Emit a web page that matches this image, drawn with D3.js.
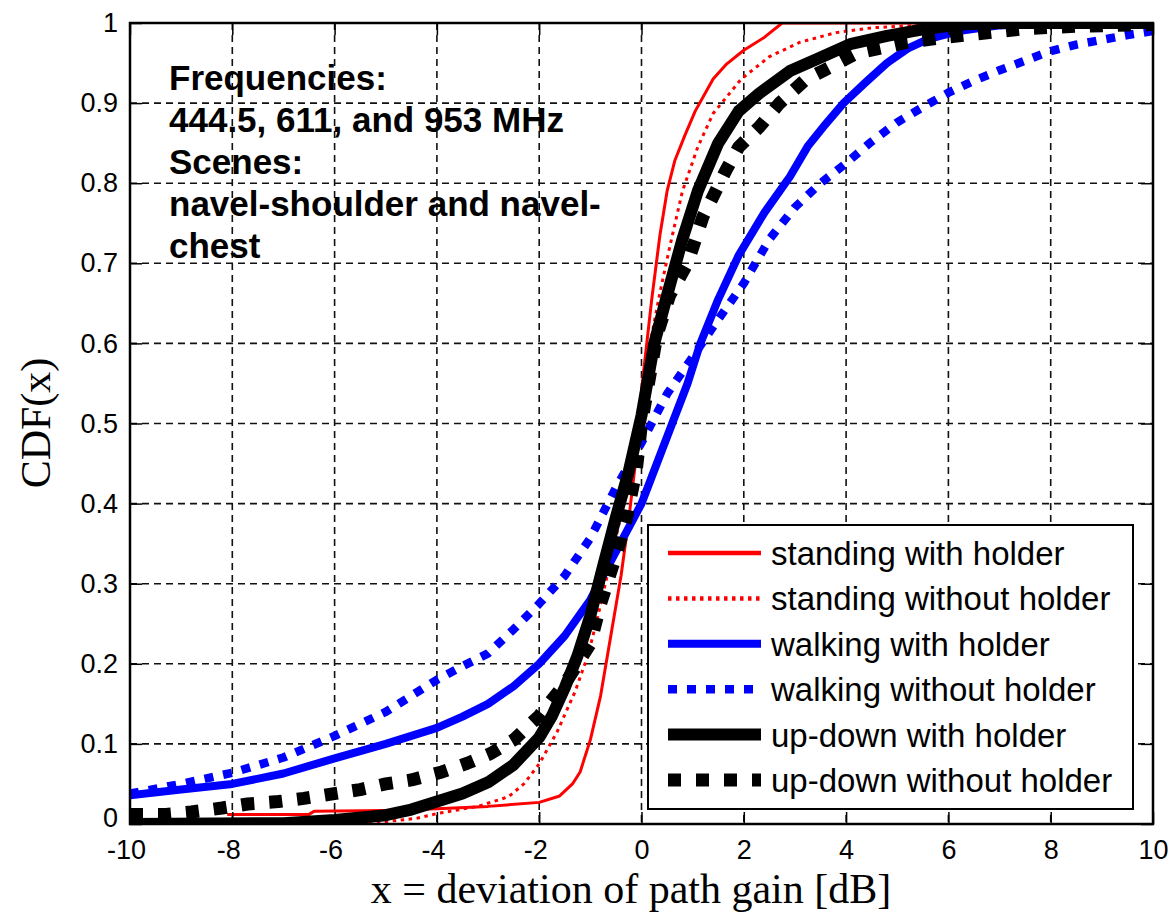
<!DOCTYPE html>
<html>
<head>
<meta charset="utf-8">
<script src="https://cdn.jsdelivr.net/npm/d3@7"></script>
<style>
  body { margin: 0; background: #fff; }
  .tick text { font-family: "Liberation Sans", Arial, sans-serif; font-size: 27px; fill: #000; }
  .axis path { display: none; }
  .axis line { stroke: #000; stroke-width: 1.5; }
</style>
</head>
<body>
<svg id="chart" width="1170" height="919"></svg>
<script>
// ***** DATA *****
const xTicks = [-10, -8, -6, -4, -2, 0, 2, 4, 6, 8, 10];
const xTickLabels = ["-10", "-8", "-6", "-4", "-2", "0", "2", "4", "6", "8", "10"];
const yTicks = [0, 0.1, 0.2, 0.3, 0.4, 0.5, 0.6, 0.7, 0.8, 0.9, 1];
const yTickLabels = ["0", "0.1", "0.2", "0.3", "0.4", "0.5", "0.6", "0.7", "0.8", "0.9", "1"];

const seriesNames = ["standing with holder", "standing without holder", "walking with holder",
                     "walking without holder", "up-down with holder", "up-down without holder"];

const standingWith = [[-8.1,0.012],[-6.5,0.012],[-6.4,0.016],[-5,0.017],[-4,0.019],[-3,0.022],[-2,0.027],
  [-1.6,0.035],[-1.35,0.05],[-1.2,0.065],[-1.0,0.105],[-0.8,0.16],[-0.6,0.235],[-0.4,0.31],[-0.25,0.38],
  [-0.12,0.45],[-0.05,0.51],[0.05,0.57],[0.2,0.655],[0.36,0.735],[0.5,0.79],[0.65,0.828],[0.85,0.86],
  [1.05,0.89],[1.4,0.93],[1.65,0.948],[2.0,0.966],[2.4,0.982],[2.75,1.0],[5.7,1.0]];

const standingWithout = [[-5.8,0.0],[-5,0.003],[-4.4,0.007],[-4,0.013],[-3.2,0.022],[-2.6,0.034],[-2.3,0.05],
  [-2.0,0.075],[-1.65,0.115],[-1.3,0.165],[-1.05,0.21],[-0.85,0.26],[-0.6,0.33],[-0.35,0.40],[-0.1,0.48],
  [0.05,0.55],[0.2,0.61],[0.35,0.66],[0.55,0.72],[0.8,0.79],[1.1,0.845],[1.4,0.887],[1.95,0.93],[2.5,0.958],
  [3.1,0.976],[3.8,0.988],[4.5,0.994],[5.7,0.998]];

const walkingWith = [[-10,0.036],[-9,0.043],[-8,0.05],[-7,0.063],[-6,0.082],[-5,0.1],[-4,0.12],[-3.5,0.134],
  [-3,0.15],[-2.5,0.172],[-2,0.2],[-1.5,0.235],[-1,0.28],[-0.5,0.34],[0,0.40],[0.3,0.45],[0.6,0.5],[0.9,0.55],
  [1.15,0.6],[1.5,0.655],[1.9,0.71],[2.4,0.763],[2.9,0.808],[3.25,0.846],[3.55,0.87],[3.95,0.9],[4.4,0.927],
  [4.8,0.95],[5.2,0.968],[5.6,0.98],[6.2,0.99],[7,0.997],[8,1.0],[10,1.0]];

const walkingWithout = [[-10,0.038],[-9,0.05],[-8,0.064],[-7,0.083],[-6,0.11],[-5,0.14],[-4,0.18],[-3.5,0.197],
  [-3,0.213],[-2.5,0.243],[-2,0.275],[-1.5,0.31],[-1,0.357],[-0.5,0.42],[0,0.476],[0.5,0.537],[1.0,0.583],
  [1.5,0.63],[2.0,0.675],[2.5,0.73],[3.0,0.77],[3.5,0.80],[4.0,0.825],[4.5,0.852],[5.0,0.876],[5.5,0.895],
  [6.0,0.913],[6.5,0.928],[7.0,0.941],[7.5,0.953],[8.0,0.965],[8.5,0.973],[9.0,0.979],[9.5,0.985],[10,0.99]];

const updownWith = [[-10,0.0],[-7,0.001],[-6,0.005],[-5,0.011],[-4.5,0.018],[-4,0.028],[-3.5,0.038],[-3,0.052],
  [-2.5,0.074],[-2,0.108],[-1.75,0.135],[-1.5,0.17],[-1.25,0.21],[-1.0,0.26],[-0.75,0.322],[-0.5,0.383],
  [-0.25,0.44],[0,0.51],[0.25,0.6],[0.5,0.66],[0.8,0.73],[1.1,0.79],[1.5,0.85],[1.9,0.89],[2.3,0.912],
  [2.9,0.94],[3.5,0.957],[4.1,0.974],[4.8,0.984],[5.5,0.992],[6.2,0.998],[7,1.0],[10,1.0]];

const updownWithout = [[-10,0.012],[-9.3,0.012],[-8.8,0.015],[-8.2,0.02],[-7.7,0.025],[-7.1,0.028],[-6.6,0.032],
  [-6.1,0.037],[-5.5,0.043],[-5.0,0.05],[-4.5,0.055],[-3.9,0.065],[-3.4,0.076],[-2.95,0.088],[-2.5,0.105],
  [-2.0,0.135],[-1.5,0.175],[-1.0,0.225],[-0.8,0.275],[-0.45,0.345],[-0.3,0.38],[-0.1,0.443],[0.0,0.5],
  [0.15,0.555],[0.3,0.61],[0.55,0.66],[0.9,0.70],[1.2,0.758],[1.45,0.79],[1.65,0.816],[1.9,0.845],[2.3,0.87],
  [2.7,0.9],[3.2,0.929],[3.6,0.942],[4.2,0.962],[4.7,0.969],[5.2,0.976],[5.9,0.982],[6.8,0.988],[7.5,0.993],
  [8.5,0.996],[10,0.998]];

const annotationLines = ["Frequencies:", "444.5, 611, and 953 MHz", "Scenes:", "navel-shoulder and navel-", "chest"];

// line styles (kept apart from the values)
const seriesStyles = [
  { color: "#ff0000", width: 3,   dash: null },
  { color: "#ff0000", width: 3,   dash: "3.5,4.5" },
  { color: "#0000ff", width: 8,   dash: null },
  { color: "#0000ff", width: 8.5, dash: "9,10" },
  { color: "#000000", width: 12,  dash: null },
  { color: "#000000", width: 13,  dash: "13,15" }
];
const seriesData = [standingWith, standingWithout, walkingWith, walkingWithout, updownWith, updownWithout];

// ***** LAYOUT *****
const svg = d3.select("#chart");
const plot = { left: 130, right: 1153, top: 23, bottom: 824 };

const x = d3.scaleLinear().domain([-10, 10]).range([plot.left, plot.right]);
const y = d3.scaleLinear().domain([0, 1]).range([plot.bottom, plot.top]);

svg.append("rect").attr("width", 1170).attr("height", 919).attr("fill", "#fff");

svg.append("defs").append("clipPath").attr("id", "plotclip")
    .append("rect")
    .attr("x", plot.left).attr("y", plot.top)
    .attr("width", plot.right - plot.left).attr("height", plot.bottom - plot.top);

// dashed grid
const grid = svg.append("g").attr("class", "grid");
grid.selectAll("line.vgrid").data(xTicks.slice(1, -1))
    .join("line")
    .attr("x1", d => x(d)).attr("x2", d => x(d))
    .attr("y1", plot.top).attr("y2", plot.bottom)
    .attr("stroke", "#111").attr("stroke-width", 1.6).attr("stroke-dasharray", "7,5");
grid.selectAll("line.hgrid").data(yTicks.slice(1, -1))
    .join("line")
    .attr("x1", plot.left).attr("x2", plot.right)
    .attr("y1", d => y(d)).attr("y2", d => y(d))
    .attr("stroke", "#111").attr("stroke-width", 1.6).attr("stroke-dasharray", "7,5");

// ***** CURVES *****
const line = d3.line().x(d => x(d[0])).y(d => y(d[1]));
const curves = svg.append("g").attr("clip-path", "url(#plotclip)");
seriesData.forEach((data, i) => {
    const st = seriesStyles[i];
    curves.append("path")
        .datum(data)
        .attr("d", line)
        .attr("fill", "none")
        .attr("stroke", st.color)
        .attr("stroke-width", st.width)
        .attr("stroke-linejoin", "round")
        .attr("stroke-dasharray", st.dash);
});

// ***** AXES (ticks inside, like matlab) *****
const xAxis = svg.append("g").attr("class", "axis")
    .attr("transform", `translate(0,${plot.bottom})`)
    .call(d3.axisBottom(x).tickValues(xTicks).tickFormat((d, i) => xTickLabels[i])
            .tickSizeInner(-12).tickSizeOuter(0).tickPadding(16));
// matlab sets negative labels a bit to the left
xAxis.selectAll(".tick text").attr("dx", d => d < 0 ? -4 : 0);

const yAxis = svg.append("g").attr("class", "axis")
    .attr("transform", `translate(${plot.left},0)`)
    .call(d3.axisLeft(y).tickValues(yTicks).tickFormat((d, i) => yTickLabels[i])
            .tickSizeInner(-12).tickSizeOuter(0).tickPadding(12));
yAxis.selectAll(".tick text").filter(d => d === 0).attr("dy", "0.1em");

svg.append("g").attr("class", "axis")
    .attr("transform", `translate(0,${plot.top})`)
    .call(d3.axisTop(x).tickValues(xTicks).tickSizeInner(-12).tickSizeOuter(0).tickFormat(""));
svg.append("g").attr("class", "axis")
    .attr("transform", `translate(${plot.right},0)`)
    .call(d3.axisRight(y).tickValues(yTicks).tickSizeInner(-12).tickSizeOuter(0).tickFormat(""));

svg.append("rect")
    .attr("x", plot.left).attr("y", plot.top)
    .attr("width", plot.right - plot.left).attr("height", plot.bottom - plot.top)
    .attr("fill", "none").attr("stroke", "#000").attr("stroke-width", 2.5);

// axis titles
svg.append("text")
    .text("x = deviation of path gain [dB]")
    .attr("x", 631)
    .attr("y", 903)
    .attr("text-anchor", "middle")
    .style("font-family", "'Liberation Serif', 'Times New Roman', serif")
    .style("font-size", "42px");
svg.append("text")
    .text("CDF(x)")
    .attr("transform", "translate(50,423) rotate(-90)")
    .attr("text-anchor", "middle")
    .style("font-family", "'Liberation Serif', 'Times New Roman', serif")
    .style("font-size", "42px");

// ***** ANNOTATION *****
svg.append("g").selectAll("text").data(annotationLines)
    .join("text")
    .text(d => d)
    .attr("x", 169)
    .attr("y", (d, i) => 90 + i * 42)
    .style("font-family", "'Liberation Sans', Arial, sans-serif")
    .style("font-weight", "bold")
    .style("font-size", "35px");

// ***** LEGEND *****
const legend = svg.append("g").attr("transform", "translate(648,525)");
legend.append("rect")
    .attr("width", 485).attr("height", 284)
    .attr("fill", "#fff").attr("stroke", "#000").attr("stroke-width", 2);
seriesNames.forEach((name, i) => {
    const st = seriesStyles[i];
    const cy = 28 + i * 45.4;
    legend.append("line")
        .attr("x1", 20).attr("x2", 113)
        .attr("y1", cy).attr("y2", cy)
        .attr("stroke", st.color)
        .attr("stroke-width", i < 2 ? 4.5 : st.width)
        .attr("stroke-dasharray", st.dash);
    legend.append("text")
        .text(name)
        .attr("x", 123)
        .attr("y", cy + 12)
        .style("font-family", "'Liberation Sans', Arial, sans-serif")
        .style("font-size", "33px");
});
</script>
</body>
</html>
